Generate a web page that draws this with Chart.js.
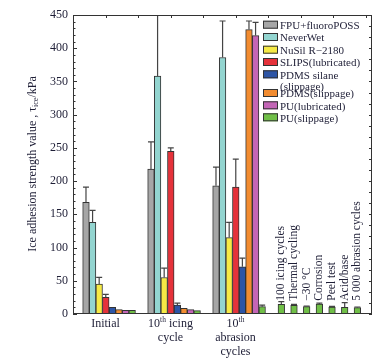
<!DOCTYPE html>
<html>
<head>
<meta charset="utf-8">
<script src="https://cdn.jsdelivr.net/npm/chart.js@4.4.0/dist/chart.umd.min.js"></script>
<style>
  html, body { margin: 0; padding: 0; background: #fff; }
  #wrap { width: 390px; height: 361px; }
</style>
</head>
<body>
<div id="wrap"><canvas id="chart" width="390" height="361"></canvas></div>
<script>
// stage labels under the axis ("^" marks a superscript up to the next space)
const stages = [["Initial"], ["10^th icing", "cycle"], ["10^th", "abrasion", "cycles"]];

// coatings (legend)
const coatings = ["FPU+fluoroPOSS", "NeverWet", "NuSil R\u22122180", "SLIPS(lubricated)",
  ["PDMS silane", "(slippage)"], "PDMS(slippage)", "PU(lubricated)", "PU(slippage)"];
const coatingColors = ["#a6a6a6", "#93d5d0", "#f6ea45", "#e5323a", "#2d55a6", "#f28c30", "#c465b6", "#70bf47"];

// ice adhesion strength (kPa) for Initial / 10th icing / 10th abrasion, and upper error
const fpuVals = [168, 218, 193];
const fpuErr = [23, 41, 28];
const neverWetVals = [138, 358, 386];
const neverWetErr = [18, 110, 55];
const nusilVals = [45, 55, 115];
const nusilErr = [10, 14, 23];
const slipsVals = [25, 245, 191];
const slipsErr = [4.5, 5, 42];
const pdmsSilaneVals = [10, 13.5, 71];
const pdmsSilaneErr = [0, 3, 13];
const pdmsSlipVals = [6.5, 8.5, 428];
const pdmsSlipErr = [0, 0, 13];
const puLubVals = [5.5, 6.5, 419];
const puLubErr = [0, 0, 20];
const puSlipVals = [5.5, 5, 11];
const puSlipErr = [0, 0, 2.5];

// durability tests on PU(slippage)
const testLabels = ["100 icing cycles", "Thermal cycling", "\u221230 \u00b0C", "Corrosion", "Peel test", "Acid/base", "5 000 abrasion cycles"];
const testVals = [14.5, 13, 11, 15, 10.5, 10, 9.5];
const testErr = [4, 1.5, 1, 1.5, 1, 7, 1];

const yTicks = [0, 50, 100, 150, 200, 250, 300, 350, 400, 450];

const allVals = [fpuVals, neverWetVals, nusilVals, slipsVals, pdmsSilaneVals, pdmsSlipVals, puLubVals, puSlipVals];
const allErr = [fpuErr, neverWetErr, nusilErr, slipsErr, pdmsSilaneErr, pdmsSlipErr, puLubErr, puSlipErr];

// x axis runs in "stage" units; bars sit side by side inside each stage
const barStep = 0.1015;
function groupX(i, d) { return i + 0.555 + (d - 3.5) * barStep; }
function testX(j) { return 3.205 + j * 0.195; }

const serif = "'Liberation Serif', 'DejaVu Serif', serif";
const inkColor = "#1e1e36";

const datasets = allVals.map((vals, d) => ({
  label: Array.isArray(coatings[d]) ? coatings[d].join(" ") : coatings[d],
  data: vals.map((v, i) => ({ x: groupX(i, d), y: v })),
  errors: allErr[d],
  backgroundColor: coatingColors[d],
  borderColor: "#333",
  borderWidth: 1,
  barThickness: 6.6,
  grouped: false
}));
datasets.push({
  label: "tests",
  data: testVals.map((v, j) => ({ x: testX(j), y: v })),
  errors: testErr,
  backgroundColor: coatingColors[7],
  borderColor: "#333",
  borderWidth: 1,
  barThickness: 6.6,
  grouped: false
});

function drawRich(ctx, text, cx, cy, size) {
  const parts = [];
  text.split("^").forEach((seg, k) => {
    if (k === 0) { parts.push({ t: seg, sup: false }); return; }
    const sp = seg.indexOf(" ");
    const sup = sp < 0 ? seg : seg.slice(0, sp);
    parts.push({ t: sup, sup: true });
    if (sp >= 0) parts.push({ t: seg.slice(sp), sup: false });
  });
  let total = 0;
  parts.forEach(p => {
    ctx.font = (p.sup ? size * 0.62 : size) + "px " + serif;
    p.w = ctx.measureText(p.t).width;
    total += p.w;
  });
  let x = cx - total / 2;
  ctx.textAlign = "left";
  ctx.textBaseline = "middle";
  parts.forEach(p => {
    ctx.font = (p.sup ? size * 0.62 : size) + "px " + serif;
    ctx.fillText(p.t, x, p.sup ? cy - size * 0.3 : cy);
    x += p.w;
  });
}

const errorBars = {
  id: "errorBars",
  afterDatasetsDraw(chart) {
    const ctx = chart.ctx, y = chart.scales.y, a = chart.chartArea;
    ctx.save();
    ctx.beginPath();
    ctx.rect(a.left, a.top, a.right - a.left, a.bottom - a.top);
    ctx.clip();
    ctx.strokeStyle = "#444";
    ctx.lineWidth = 1.2;
    chart.data.datasets.forEach((ds, d) => {
      chart.getDatasetMeta(d).data.forEach((bar, i) => {
        const e = ds.errors[i];
        if (!e) return;
        const top = y.getPixelForValue(ds.data[i].y + e);
        ctx.beginPath();
        ctx.moveTo(bar.x, bar.y);
        ctx.lineTo(bar.x, top);
        ctx.moveTo(bar.x - 3, top);
        ctx.lineTo(bar.x + 3, top);
        ctx.stroke();
      });
    });
    ctx.restore();
  }
};

const decorations = {
  id: "decorations",
  afterDraw(chart) {
    const ctx = chart.ctx, a = chart.chartArea, x = chart.scales.x, y = chart.scales.y;
    ctx.save();
    // frame and inward ticks
    ctx.strokeStyle = "#333";
    ctx.lineWidth = 1;
    ctx.strokeRect(a.left + 0.5, a.top + 0.5, a.right - a.left - 1, a.bottom - a.top - 1);
    ctx.beginPath();
    for (let v = 0; v <= 450; v += 10) {
      const py = Math.round(y.getPixelForValue(v)) + 0.5;
      const len = v % 50 === 0 ? 4 : 2.5;
      ctx.moveTo(a.left, py);
      ctx.lineTo(a.left + len, py);
    }
    for (let v = 0; v <= 450; v += 50 / 3) {
      const py = Math.round(y.getPixelForValue(v)) + 0.5;
      ctx.moveTo(a.right, py);
      ctx.lineTo(a.right - 3, py);
    }
    for (let v = 0.5; v < x.max; v += 0.5) {
      const px = Math.round(x.getPixelForValue(v)) + 0.5;
      ctx.moveTo(px, a.top);
      ctx.lineTo(px, a.top + 3);
    }
    ctx.stroke();

    ctx.fillStyle = inkColor;
    // stage labels
    stages.forEach((lines, i) => {
      const cx = x.getPixelForValue(i + 0.5);
      lines.forEach((ln, k) => drawRich(ctx, ln, cx, a.bottom + 10 + k * 14, 12));
    });

    // test labels, rotated above their bars
    const meta = chart.getDatasetMeta(chart.data.datasets.length - 1);
    ctx.font = "11.5px " + serif;
    ctx.textAlign = "left";
    ctx.textBaseline = "middle";
    meta.data.forEach((bar, j) => {
      ctx.save();
      ctx.translate(bar.x, y.getPixelForValue(20));
      ctx.rotate(-Math.PI / 2);
      ctx.fillText(testLabels[j], 0, 0);
      ctx.restore();
    });

    // legend
    const rowY = [24.7, 37, 49.7, 62, 74.3, 93, 105.3, 117.3];
    coatings.forEach((name, d) => {
      const cy = rowY[d];
      ctx.fillStyle = coatingColors[d];
      ctx.fillRect(263, cy - 4, 15, 8);
      ctx.strokeStyle = "#333";
      ctx.strokeRect(263.5, cy - 3.5, 14, 7);
      ctx.fillStyle = inkColor;
      ctx.font = "11px " + serif;
      ctx.textAlign = "left";
      ctx.textBaseline = "middle";
      const lines = Array.isArray(name) ? name : [name];
      lines.forEach((ln, k) => ctx.fillText(ln, 280, cy + 1.5 + k * 11.7));
    });

    // y axis title with subscript
    ctx.save();
    ctx.translate(33, 164);
    ctx.rotate(-Math.PI / 2);
    const p1 = "Ice adhesion strength value , \u03c4", p2 = "ice", p3 = "/kPa";
    ctx.font = "12px " + serif;
    const w1 = ctx.measureText(p1).width, w3 = ctx.measureText(p3).width;
    ctx.font = "8px " + serif;
    const w2 = ctx.measureText(p2).width;
    let sx = -(w1 + w2 + w3) / 2;
    ctx.textAlign = "left";
    ctx.textBaseline = "middle";
    ctx.font = "12px " + serif;
    ctx.fillText(p1, sx, 0);
    ctx.font = "8px " + serif;
    ctx.fillText(p2, sx + w1, 3);
    ctx.font = "12px " + serif;
    ctx.fillText(p3, sx + w1 + w2, 0);
    ctx.restore();

    ctx.restore();
  }
};

new Chart(document.getElementById("chart"), {
  type: "bar",
  data: { datasets: datasets },
  options: {
    responsive: false,
    animation: false,
    layout: { padding: { left: 0, top: 15, right: 18, bottom: 0 } },
    plugins: { legend: { display: false }, tooltip: { enabled: false } },
    scales: {
      x: {
        type: "linear",
        offset: false,
        min: 0,
        max: 4.6,
        grid: { display: false, offset: false },
        border: { display: false },
        ticks: { display: false },
        afterFit(scale) { scale.height = 47; }
      },
      y: {
        min: 0,
        max: 450,
        grid: { display: false, drawTicks: false },
        border: { display: false },
        afterBuildTicks(scale) { scale.ticks = yTicks.map(v => ({ value: v })); },
        ticks: {
          padding: 5,
          color: inkColor,
          font: { family: serif, size: 12 }
        },
        afterFit(scale) { scale.width = 73; }
      }
    }
  },
  plugins: [errorBars, decorations]
});
</script>
</body>
</html>
